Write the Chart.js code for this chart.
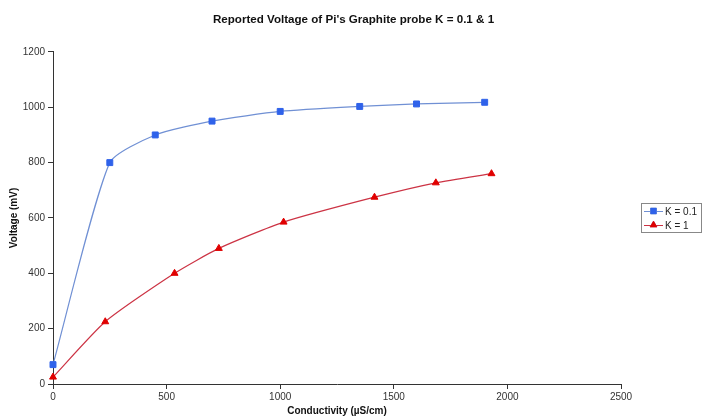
<!DOCTYPE html>
<html>
<head>
<meta charset="utf-8">
<script src="https://cdn.jsdelivr.net/npm/chart.js@4.4.0/dist/chart.umd.min.js"></script>
<style>
    body { margin: 0; background: #fff; }
    #chart { display: block; }
</style>
</head>
<body>
<canvas id="chart" width="707" height="419"></canvas>
<script>
// data
const k01X = [0, 250, 450, 700, 1000, 1350, 1600, 1900];
const k01Y = [70, 800, 900, 950, 985, 1003, 1012, 1018];
const k1X = [0, 230, 535, 730, 1015, 1415, 1685, 1930];
const k1Y = [25, 225, 400, 490, 585, 675, 727, 760];
const xTicks = [0, 500, 1000, 1500, 2000, 2500];
const yTicks = [0, 200, 400, 600, 800, 1000, 1200];
const seriesNames = ['K = 0.1', 'K = 1'];

const toPoints = (xs, ys) => xs.map((x, i) => ({ x: x, y: ys[i] }));
const FONT = '"Liberation Sans", Arial, sans-serif';

// excel-ish legend with a border, line + marker swatch
const boxLegend = {
    id: 'boxLegend',
    afterDraw(chart) {
        const ctx = chart.ctx;
        const x0 = 641, y0 = 203, w = 60, h = 29;
        ctx.save();
        ctx.strokeStyle = '#888';
        ctx.lineWidth = 1;
        ctx.strokeRect(x0 + 0.5, y0 + 0.5, w, h);
        ctx.font = '10px ' + FONT;
        ctx.textBaseline = 'middle';
        chart.data.datasets.forEach((ds, i) => {
            const cy = y0 + 8 + i * 14;
            ctx.strokeStyle = ds.borderColor;
            ctx.beginPath();
            ctx.moveTo(x0 + 3, cy + 0.5);
            ctx.lineTo(x0 + 22, cy + 0.5);
            ctx.stroke();
            Chart.helpers.drawPoint(ctx, {
                pointStyle: ds.pointStyle,
                radius: ds.pointRadius,
                borderWidth: 1
            }, x0 + 12.5, cy);
            ctx.fillStyle = ds.pointBackgroundColor;
            ctx.fill();
            ctx.fillStyle = '#222';
            ctx.fillText(ds.label, x0 + 24, cy + 1);
        });
        ctx.restore();
    }
};

const ctx = document.getElementById('chart').getContext('2d');
new Chart(ctx, {
    type: 'scatter',
    data: {
        datasets: [{
            label: seriesNames[0],
            data: toPoints(k01X, k01Y),
            showLine: true,
            clip: false,
            tension: 0.2,
            borderColor: '#7090d4',
            borderWidth: 1.2,
            pointStyle: 'rect',
            pointRadius: 4.2,
            pointBackgroundColor: '#2f62ea',
            pointBorderColor: '#2f62ea',
            pointBorderWidth: 1
        }, {
            label: seriesNames[1],
            data: toPoints(k1X, k1Y),
            showLine: true,
            clip: false,
            tension: 0.2,
            borderColor: '#cc3344',
            borderWidth: 1.2,
            pointStyle: 'triangle',
            pointRadius: 4,
            pointBackgroundColor: '#e00000',
            pointBorderColor: '#e00000',
            pointBorderWidth: 1
        }]
    },
    options: {
        responsive: false,
        animation: false,
        layout: { padding: 0 },
        scales: {
            x: {
                type: 'linear',
                min: xTicks[0],
                max: xTicks[xTicks.length - 1],
                afterBuildTicks: s => { s.ticks = xTicks.map(v => ({ value: v })); },
                afterFit: s => { s.height = 35; },
                grid: { display: true, drawOnChartArea: false, tickLength: 5, color: '#333' },
                border: { color: '#333', width: 1 },
                ticks: { padding: 2, color: '#333', font: { family: FONT, size: 10 }, callback: v => String(v) },
                title: {
                    display: true,
                    text: 'Conductivity (µS/cm)',
                    color: '#111',
                    padding: { top: 4, bottom: 2 },
                    font: { family: FONT, size: 10, weight: 'bold' }
                }
            },
            y: {
                type: 'linear',
                min: yTicks[0],
                max: yTicks[yTicks.length - 1],
                afterBuildTicks: s => { s.ticks = yTicks.map(v => ({ value: v })); },
                afterFit: s => { s.width = 53; },
                grid: { display: true, drawOnChartArea: false, tickLength: 5, color: '#333' },
                border: { color: '#333', width: 1 },
                ticks: { padding: 3, color: '#333', font: { family: FONT, size: 10 }, callback: v => String(v) },
                title: {
                    display: true,
                    text: 'Voltage (mV)',
                    color: '#111',
                    padding: { top: 8, bottom: 0 },
                    font: { family: FONT, size: 10, weight: 'bold' }
                }
            },
            // empty right-hand strip where the legend sits
            side: {
                type: 'linear',
                position: 'right',
                min: yTicks[0],
                max: yTicks[yTicks.length - 1],
                afterFit: s => { s.width = 86; },
                grid: { display: false },
                border: { display: false },
                ticks: { display: false }
            }
        },
        plugins: {
            legend: { display: false },
            tooltip: { enabled: false },
            title: {
                display: true,
                text: "Reported Voltage of Pi's Graphite probe K = 0.1 & 1",
                color: '#111',
                padding: { top: 13, bottom: 25 },
                font: { family: FONT, size: 11.6, weight: 'bold' }
            }
        }
    },
    plugins: [boxLegend]
});
</script>
</body>
</html>
